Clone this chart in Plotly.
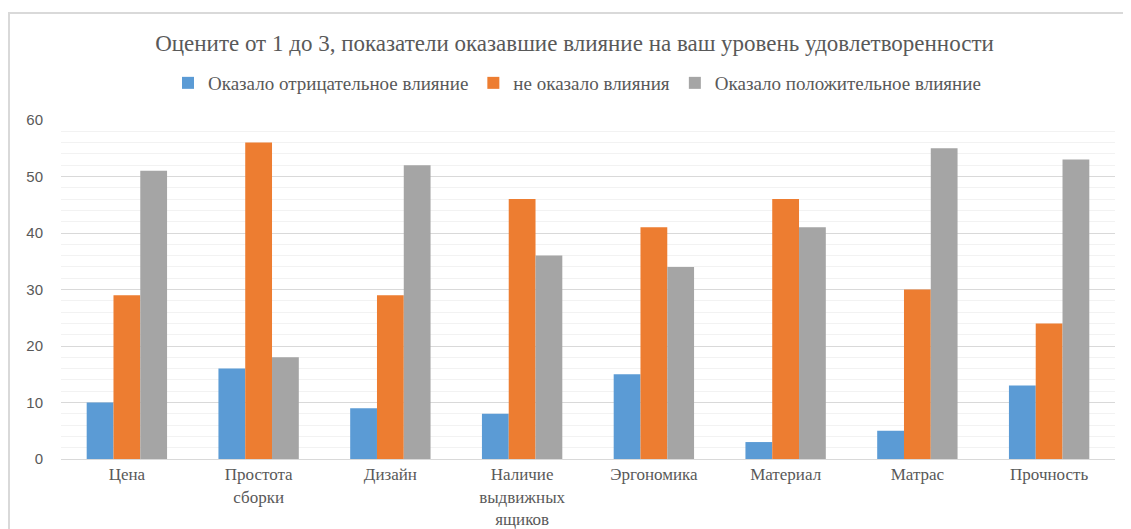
import plotly.graph_objects as go

categories = ["Цена", "Простота<br>сборки", "Дизайн", "Наличие<br>выдвижных<br>ящиков",
              "Эргономика", "Материал", "Матрас", "Прочность"]
negative = [10, 16, 9, 8, 15, 3, 5, 13]
neutral = [29, 56, 29, 46, 41, 46, 30, 24]
positive = [51, 18, 52, 36, 34, 41, 55, 53]
series_names = ["Оказало отрицательное влияние", "не оказало влияния", "Оказало положительное влияние"]
colors = ["#5b9bd5", "#ed7d31", "#a5a5a5"]
y_ticks = [0, 10, 20, 30, 40, 50, 60]

fig = go.Figure()
for name, vals, c in zip(series_names, [negative, neutral, positive], colors):
    fig.add_trace(go.Bar(x=categories, y=vals, name=name, marker=dict(color=c, line=dict(width=0))))

# the page adds an 8px body margin, so the figure is laid out in page coords minus 8
OFF = 8
W, H = 1131 - OFF, 529 - OFF
ml, mr, mt, mb = 61 - OFF, 16, 120 - OFF, 70
pw = W - ml - mr
ph = H - mt - mb

fig.update_layout(
    width=W, height=H,
    margin=dict(l=ml, r=mr, t=mt, b=mb, autoexpand=False),
    paper_bgcolor="white", plot_bgcolor="white",
    barmode="group", bargap=0.39, bargroupgap=0,
    title=dict(text="Оцените от 1 до 3, показатели оказавшие влияние на ваш уровень удовлетворенности",
               x=(574.5 - OFF) / W, xanchor="center", xref="container",
               y=1 - (43 - OFF) / H, yanchor="middle", yref="container",
               font=dict(family="Liberation Serif", size=23, color="#595959")),
    legend=dict(orientation="h", x=(577 - OFF) / W, xanchor="center",
                y=1 - (83 - OFF) / H, yanchor="middle",
                xref="container", yref="container",
                font=dict(family="Liberation Serif", size=19, color="#595959"),
                itemsizing="constant", traceorder="normal"),
    xaxis=dict(showgrid=False, showline=True, linecolor="#d9d9d9", linewidth=1,
               tickfont=dict(family="Liberation Serif", size=17, color="#595959"),
               ticks="", fixedrange=True, automargin=False),
    yaxis=dict(range=[0, 60], tickvals=y_ticks, showgrid=True, gridcolor="#d9d9d9", gridwidth=1,
               zeroline=False, showline=False, ticks="outside", ticklen=14,
               tickcolor="rgba(0,0,0,0)",
               tickfont=dict(family="Liberation Sans", size=15, color="#595959"),
               minor=dict(dtick=2, showgrid=True, gridcolor="#f2f2f2", gridwidth=1, ticks=""),
               automargin=False),
    showlegend=True,
)

# chart frame (outer border) at page x=8, y=13
fig.add_shape(type="line", xref="paper", yref="paper",
              x0=(8 - OFF - ml) / pw, x1=(W + 5 - ml) / pw,
              y0=1 + (mt - (13 - OFF)) / ph, y1=1 + (mt - (13 - OFF)) / ph,
              line=dict(color="#d9d9d9", width=2))
fig.add_shape(type="line", xref="paper", yref="paper",
              x0=(8 - OFF - ml) / pw + 1 / pw, x1=(8 - OFF - ml) / pw + 1 / pw,
              y0=1 + (mt - (13 - OFF)) / ph, y1=-(mb + 5) / ph,
              line=dict(color="#d9d9d9", width=2))

fig.write_html("out.html")
